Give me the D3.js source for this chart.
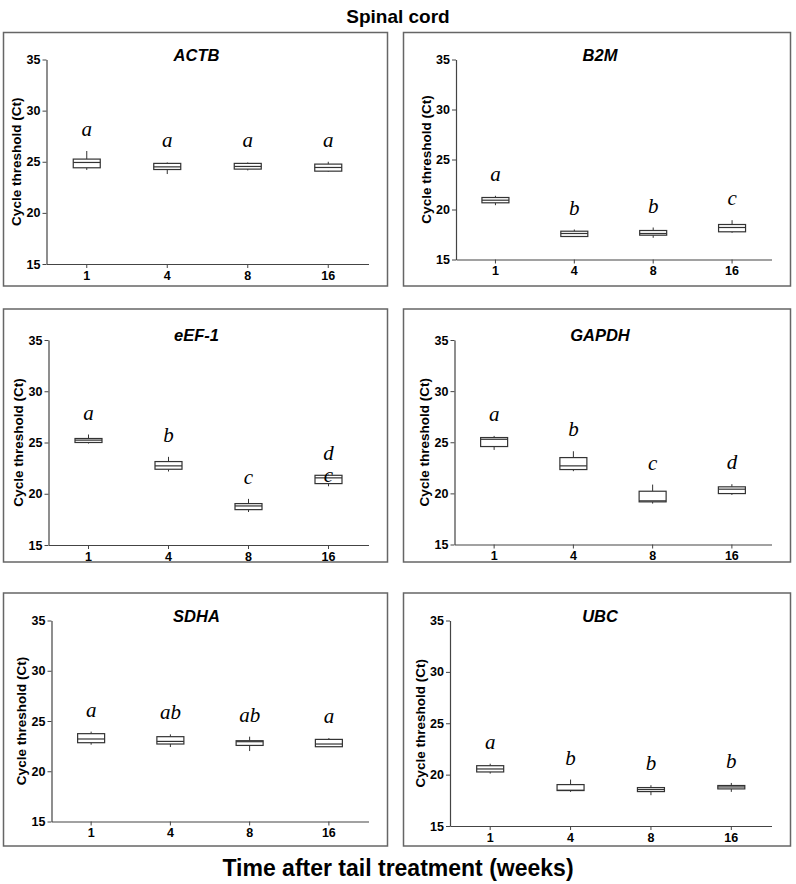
<!DOCTYPE html>
<html><head><meta charset="utf-8">
<script src="https://cdn.jsdelivr.net/npm/d3@7"></script>
<style>body{margin:0;background:#fff} svg{display:block}</style>
</head><body>
<svg id="c" width="796" height="884"></svg>
<script>
const weeks = ["1","4","8","16"];
const genes = ["ACTB","B2M","eEF-1","GAPDH","SDHA","UBC"];
const yTicks = [15,20,25,30,35];
const whiskerLow = [
 [24.2,23.8,24.15,24.0],
 [20.43,17.3,17.17,17.67],
 [24.9,22.17,18.22,20.73],
 [24.25,22.17,19.0,19.85],
 [22.64,22.41,22.01,22.44],
 [20.1,18.32,18.0,18.32]];
const q1 = [
 [24.41,24.24,24.28,24.08],
 [20.67,17.3,17.43,17.77],
 [25.0,22.39,18.45,20.99],
 [24.58,22.33,19.17,19.98],
 [22.84,22.71,22.57,22.44],
 [20.26,18.45,18.35,18.61]];
const median = [
 [24.93,24.5,24.54,24.44],
 [20.93,17.6,17.6,18.2],
 [25.23,22.72,18.81,21.55],
 [25.29,22.69,19.27,20.41],
 [23.21,22.97,22.94,22.71],
 [20.55,18.48,18.55,18.8]];
const q3 = [
 [25.26,24.84,24.84,24.77],
 [21.2,17.83,17.9,18.5],
 [25.39,23.14,19.04,21.8],
 [25.46,23.5,20.21,20.64],
 [23.74,23.44,23.04,23.17],
 [20.87,19.03,18.74,18.94]];
const whiskerHigh = [
 [26.05,24.93,24.93,25.0],
 [21.37,18.0,18.2,18.93],
 [25.78,23.6,19.5,21.87],
 [25.62,24.12,20.86,20.9],
 [23.94,23.67,23.44,23.3],
 [21.06,19.52,18.97,19.19]];
const letters = [
 ["a","a","a","a"],
 ["a","b","b","c"],
 ["a","b","c","d"],
 ["a","b","c","d"],
 ["a","ab","ab","a"],
 ["a","b","b","b"]];
// extra letter drawn on the box (eEF-1, week 16)
const boxLetters = [{gene:"eEF-1", week:"16", text:"c"}];

const svg = d3.select("#c");
const sans = "'Liberation Sans', Arial, sans-serif";
const serif = "'Liberation Serif', 'Times New Roman', serif";

const layout = [
 {fx:3.5, fy:32.5, fw:384, fh:253.5, ax:46.5, x1:368.5, yb:264, yt:59.5, tx:196.5, ty:55},
 {fx:403.5, fy:32.5, fw:387, fh:253.5, ax:456, x1:771.5, yb:259.5, yt:59.5, tx:600, ty:55},
 {fx:3.5, fy:309, fw:384, fh:253, ax:48.5, x1:368.5, yb:545, yt:340, tx:196.5, ty:335},
 {fx:403.5, fy:309, fw:387, fh:253, ax:454.5, x1:771.5, yb:544.5, yt:340, tx:600, ty:335},
 {fx:3.5, fy:593, fw:384, fh:253, ax:51.5, x1:368.5, yb:821.5, yt:620.5, tx:196.5, ty:616},
 {fx:403.5, fy:593, fw:387, fh:253, ax:450, x1:771.5, yb:826, yt:620.5, tx:600, ty:616}
];

svg.append("text").attr("x",398).attr("y",23).attr("text-anchor","middle")
  .style("font-family",sans).style("font-weight","bold").style("font-size","19px")
  .text("Spinal cord");
svg.append("text").attr("x",398).attr("y",876).attr("text-anchor","middle")
  .style("font-family",sans).style("font-weight","bold").style("font-size","23px")
  .text("Time after tail treatment (weeks)");

genes.forEach((gene, gi) => {
  const L = layout[gi];
  const g = svg.append("g");
  g.append("rect").attr("x",L.fx).attr("y",L.fy).attr("width",L.fw).attr("height",L.fh)
    .attr("fill","none").attr("stroke","#666").attr("stroke-width",1.5);
  const x = d3.scaleBand().domain(weeks).range([L.ax, L.x1]).padding(0);
  const y = d3.scaleLinear().domain([15,35]).range([L.yb, L.yt]);

  const yAx = g.append("g").attr("transform",`translate(${L.ax},0)`)
    .call(d3.axisLeft(y).tickValues(yTicks).tickSize(4).tickSizeOuter(0).tickPadding(2));
  const xAx = g.append("g").attr("transform",`translate(0,${L.yb})`)
    .call(d3.axisBottom(x).tickSize(4).tickSizeOuter(0).tickPadding(3));
  [yAx,xAx].forEach(a=>{
    a.select(".domain").attr("stroke","#444").attr("stroke-width",1.2);
    a.selectAll(".tick line").attr("stroke","#444");
    a.selectAll(".tick text").attr("fill","#000")
      .style("font-family",sans).style("font-weight","bold").style("font-size","12.5px");
  });

  g.append("text").attr("transform",`translate(${L.ax-30},${(L.yb+L.yt)/2}) rotate(-90)`)
    .attr("text-anchor","middle").attr("dy","0.35em")
    .style("font-family",sans).style("font-weight","bold").style("font-size","13.5px")
    .text("Cycle threshold (Ct)");

  g.append("text").attr("x",L.tx).attr("y",L.ty).attr("dy","0.35em").attr("text-anchor","middle")
    .style("font-family",sans).style("font-weight","bold").style("font-style","italic").style("font-size","16.5px")
    .text(gene);

  const bw = 27;
  const rows = weeks.map((w,i)=>({w, lo:whiskerLow[gi][i], q1:q1[gi][i], med:median[gi][i], q3:q3[gi][i], hi:whiskerHigh[gi][i], lab:letters[gi][i]}));
  const bx = g.selectAll("g.box").data(rows).join("g").attr("class","box");
  const cx = d => x(d.w) + x.bandwidth()/2;
  bx.append("line").attr("x1",cx).attr("x2",cx).attr("y1",d=>y(d.q3)).attr("y2",d=>y(d.hi))
    .attr("stroke","#333").attr("stroke-width",1);
  bx.append("line").attr("x1",cx).attr("x2",cx).attr("y1",d=>y(d.q1)).attr("y2",d=>y(d.lo))
    .attr("stroke","#333").attr("stroke-width",1);
  bx.append("rect").attr("x",d=>cx(d)-bw/2).attr("width",bw)
    .attr("y",d=>y(d.q3)).attr("height",d=>Math.max(1,y(d.q1)-y(d.q3)))
    .attr("fill","#fff").attr("stroke","#333").attr("stroke-width",1.2);
  bx.append("line").attr("x1",d=>cx(d)-bw/2).attr("x2",d=>cx(d)+bw/2)
    .attr("y1",d=>y(d.med)).attr("y2",d=>y(d.med)).attr("stroke","#333").attr("stroke-width",1.2);
  bx.append("text").attr("x",cx).attr("y",d=>y(d.hi)-15).attr("text-anchor","middle")
    .style("font-family",serif).style("font-style","italic").style("font-size","21px")
    .text(d=>d.lab);

  boxLetters.filter(b=>b.gene===gene).forEach(b=>{
    const r = rows.find(d=>d.w===b.week);
    g.append("text").attr("x",cx(r)).attr("y",y(r.med)+4).attr("text-anchor","middle")
      .style("font-family",serif).style("font-style","italic").style("font-size","21px")
      .text(b.text);
  });
});
</script>
</body></html>
